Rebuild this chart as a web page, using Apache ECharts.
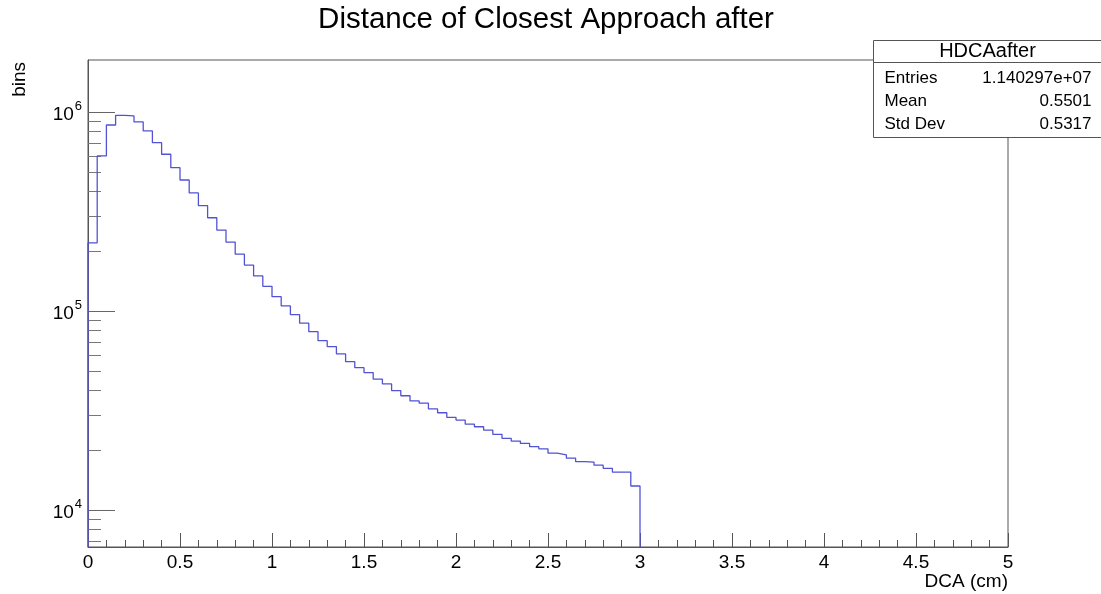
<!DOCTYPE html>
<html>
<head>
<meta charset="utf-8">
<script src="https://cdn.jsdelivr.net/npm/echarts@6/dist/echarts.min.js"></script>
<style>
  html, body { margin: 0; padding: 0; background: #fff; }
  #chart { width: 1101px; height: 594px; }
</style>
</head>
<body>
<div id="chart"></div>
<script>
// HDCAafter histogram, 100 bins of 0.05 cm over 0..5 cm (counts)
var binWidth = 0.05;
var binCounts = [
  220000, 601000, 860000, 962000, 955000, 891000, 803000, 701000, 613000, 525000,
  455000, 392000, 338000, 294000, 255000, 222000, 193000, 170000, 150000, 133000,
  118000, 106000, 95800, 86800, 78700, 70900, 66200, 60800, 55600, 51900,
  49000, 45400, 43000, 39800, 37500, 35300, 34400, 32200, 30800, 29200,
  28300, 27000, 26200, 25200, 24000, 22900, 22200, 21600, 20800, 20300,
  19300, 18900, 18200, 17500, 17400, 16800, 16200, 15500, 15500, 13200,
  0, 0, 0, 0, 0, 0, 0, 0, 0, 0,
  0, 0, 0, 0, 0, 0, 0, 0, 0, 0,
  0, 0, 0, 0, 0, 0, 0, 0, 0, 0,
  0, 0, 0, 0, 0, 0, 0, 0, 0, 0
];

var decadeTicks = [10000, 100000, 1000000];
var minorTickValues = [
  7000, 8000, 9000,
  20000, 30000, 40000, 50000, 60000, 70000, 80000, 90000,
  200000, 300000, 400000, 500000, 600000, 700000, 800000, 900000
];

var statLabels = ['Entries', 'Mean', 'Std Dev'];
var statValues = ['1.140297e+07', '0.5501', '0.5317'];

// y range of the frame (log10 of counts)
var yLogMin = 3.814;
var yLogMax = 6.261;

var FONT = '"Liberation Sans", Arial, sans-serif';

// outline of the histogram as a stepped line in log10 space
function buildOutline() {
  var pts = [[0, yLogMin]];
  var lastEdge = 0;
  var lastLog = yLogMin;
  binCounts.forEach(function (c, i) {
    if (c > 0) {
      pts.push([i * binWidth, Math.log10(c)]);
      lastEdge = (i + 1) * binWidth;
      lastLog = Math.log10(c);
    }
  });
  pts.push([lastEdge, lastLog]);
  pts.push([lastEdge, yLogMin]);
  return pts;
}

var chart = echarts.init(document.getElementById('chart'), null, { renderer: 'canvas' });

var option = {
  animation: false,
  backgroundColor: '#fff',
  textStyle: { fontFamily: FONT },
  title: {
    text: 'Distance of Closest Approach after',
    left: 546,
    textAlign: 'center',
    top: 5,
    padding: 0,
    textStyle: { fontFamily: FONT, fontSize: 29.5, fontWeight: 'normal', color: '#000' }
  },
  grid: {
    left: 88, top: 60, right: 93, bottom: 47,
    show: true, borderColor: '#555', borderWidth: 1, backgroundColor: 'transparent'
  },
  xAxis: {
    type: 'value',
    min: 0, max: 5, interval: 0.5,
    name: 'DCA (cm)',
    nameLocation: 'end',
    nameGap: 0,
    nameTextStyle: {
      fontFamily: FONT, fontSize: 19, color: '#000',
      align: 'right', verticalAlign: 'top', padding: [25, 0, 0, 0]
    },
    axisLine: { show: true, lineStyle: { color: '#555', width: 1 } },
    axisTick: { show: true, inside: true, length: 14, lineStyle: { color: '#555' } },
    minorTick: { show: true, splitNumber: 5, length: 7, lineStyle: { color: '#555' } },
    axisLabel: {
      margin: 6, fontFamily: FONT, fontSize: 19, color: '#000',
      formatter: function (v) { return String(v); }
    },
    splitLine: { show: false }
  },
  yAxis: [
    {
      type: 'value',
      min: yLogMin, max: yLogMax,
      axisLine: { show: true, lineStyle: { color: '#555', width: 1 } },
      axisTick: {
        show: true, inside: true, length: 27,
        customValues: decadeTicks.map(function (v) { return Math.log10(v); }),
        lineStyle: { color: '#666' }
      },
      axisLabel: {
        margin: 6,
        customValues: decadeTicks.map(function (v) { return Math.log10(v); }),
        formatter: function (v) { return '{b|10}{s|' + Math.round(v) + '}'; },
        rich: {
          b: { fontFamily: FONT, fontSize: 19, color: '#000', padding: [6, 0, 0, 0] },
          s: { fontFamily: FONT, fontSize: 13, color: '#000', verticalAlign: 'top', padding: [0, 0, 0, 1] }
        }
      },
      splitLine: { show: false }
    },
    {
      type: 'value',
      min: yLogMin, max: yLogMax,
      position: 'left',
      axisLine: { show: false },
      axisTick: {
        show: true, inside: true, length: 13,
        customValues: minorTickValues.map(function (v) { return Math.log10(v); }),
        lineStyle: { color: '#777' }
      },
      axisLabel: { show: false },
      splitLine: { show: false }
    }
  ],
  series: [
    {
      type: 'line',
      name: 'HDCAafter',
      xAxisIndex: 0,
      yAxisIndex: 0,
      step: 'end',
      symbol: 'none',
      clip: true,
      lineStyle: { color: '#5252d4', width: 1.3 },
      data: buildOutline()
    }
  ],
  graphic: [
    {
      type: 'group',
      left: 871,
      top: 40,
      z: 100,
      children: [
        { type: 'rect', shape: { x: 0, y: 0, width: 228, height: 97 },
          style: { fill: '#fff', stroke: '#555', lineWidth: 1 } },
        { type: 'line', shape: { x1: 0, y1: 22, x2: 228, y2: 22 },
          style: { stroke: '#555', lineWidth: 1 } },
        { type: 'text', x: 114, y: 11,
          style: { text: 'HDCAafter', font: '20px ' + FONT, fill: '#000', align: 'center', verticalAlign: 'middle' } }
      ].concat(statLabels.map(function (t, i) {
        return { type: 'text', x: 11, y: 38 + i * 23,
          style: { text: t, font: '17px ' + FONT, fill: '#000', align: 'left', verticalAlign: 'middle' } };
      })).concat(statValues.map(function (t, i) {
        return { type: 'text', x: 218, y: 38 + i * 23,
          style: { text: t, font: '17px ' + FONT, fill: '#000', align: 'right', verticalAlign: 'middle' } };
      }))
    },
    {
      type: 'text',
      x: 20, y: 62,
      rotation: Math.PI / 2,
      style: { text: 'bins', font: '19px ' + FONT, fill: '#000', align: 'right', verticalAlign: 'middle' }
    }
  ]
};

chart.setOption(option);
</script>
</body>
</html>
